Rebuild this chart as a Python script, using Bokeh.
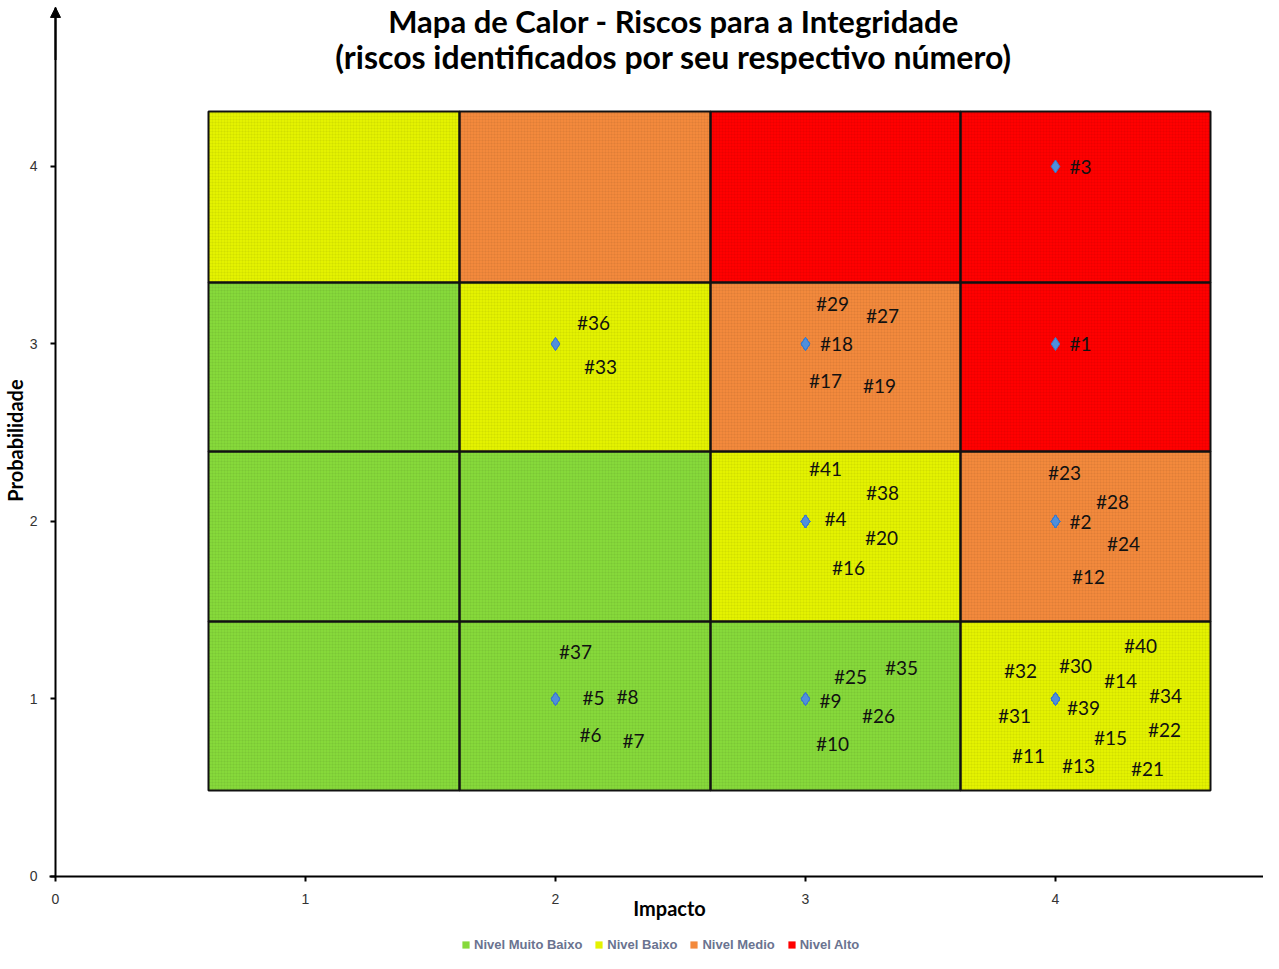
import math
from bokeh.plotting import figure
from bokeh.models import (Range1d, Label, Legend, LegendItem, Arrow, NormalHead,
                          FixedTicker, ColumnDataSource)
from bokeh.core.properties import value
from bokeh.embed import file_html
from bokeh.resources import INLINE

# ---------------- data ----------------
title_line1 = "Mapa de Calor - Riscos para a Integridade"
title_line2 = "(riscos identificados por seu respectivo número)"
x_title = "Impacto"
y_title = "Probabilidade"
ticks = [0, 1, 2, 3, 4]

level_names = ["Nivel Muito Baixo", "Nivel Baixo", "Nivel Medio", "Nivel Alto"]
level_colors = ["#86d93a", "#e4f200", "#f3893c", "#ff0000"]

# cell edges (as drawn in the picture)
impact_edges = [0.612, 1.616, 2.62, 3.62, 4.62]
prob_edges = [0.485, 1.437, 2.394, 3.346, 4.31]
# level index per cell: rows = probability 1..4, cols = impact 1..4
cell_levels = [
    [0, 0, 0, 1],
    [0, 0, 1, 2],
    [0, 1, 2, 3],
    [1, 2, 3, 3],
]

risk_ids = [3, 1, 36, 33, 29, 27, 18, 17, 19, 41, 38, 4, 20, 16,
            23, 28, 2, 24, 12, 37, 5, 8, 6, 7, 25, 35, 9, 26, 10,
            40, 32, 30, 14, 34, 39, 31, 22, 15, 11, 13, 21]
risk_impact = [4, 4, 2, 2, 3, 3, 3, 3, 3, 3, 3, 3, 3, 3,
               4, 4, 4, 4, 4, 2, 2, 2, 2, 2, 3, 3, 3, 3, 3,
               4, 4, 4, 4, 4, 4, 4, 4, 4, 4, 4, 4]
risk_prob = [4, 3, 3, 3, 3, 3, 3, 3, 3, 2, 2, 2, 2, 2,
             2, 2, 2, 2, 2, 1, 1, 1, 1, 1, 1, 1, 1, 1, 1,
             1, 1, 1, 1, 1, 1, 1, 1, 1, 1, 1, 1]
# label positions (data units)
label_x = [4.10, 4.10, 2.152, 2.18, 3.108, 3.308, 3.124, 3.08, 3.296,
           3.08, 3.308, 3.12, 3.304, 3.172,
           4.036, 4.228, 4.10, 4.272, 4.132,
           2.08, 2.152, 2.288, 2.14, 2.312,
           3.18, 3.384, 3.10, 3.292, 3.108,
           4.34, 3.86, 4.08, 4.26, 4.44, 4.112, 3.836, 4.436, 4.22, 3.892, 4.092, 4.368]
label_y = [4.0, 3.0, 3.121, 2.873, 3.228, 3.161, 3.0, 2.794, 2.766,
           2.299, 2.163, 2.017, 1.910, 1.741,
           2.276, 2.113, 2.0, 1.876, 1.690,
           1.268, 1.008, 1.014, 0.800, 0.766,
           1.127, 1.177, 0.99, 0.907, 0.749,
           1.301, 1.161, 1.189, 1.104, 1.020, 0.952, 0.907, 0.828, 0.783, 0.682, 0.625, 0.608]

# ---------------- figure ----------------
W, H = 1263, 953
X0, X1 = -0.22, 4.832
Y0, Y1 = -0.4338, 4.935
Y_AXIS_TOP = 4.896
p = figure(width=W, height=H, output_backend="svg", toolbar_location=None,
           x_range=Range1d(X0, X1), y_range=Range1d(Y0, Y1),
           min_border_left=0, min_border_right=0, min_border_top=0,
           min_border_bottom=0)
p.outline_line_color = None
p.xgrid.visible = False
p.ygrid.visible = False
p.background_fill_color = "white"

# heat map cells
lefts, rights, bottoms, tops, fills, lv = [], [], [], [], [], []
for r in range(4):
    for c in range(4):
        lefts.append(impact_edges[c])
        rights.append(impact_edges[c + 1])
        bottoms.append(prob_edges[r])
        tops.append(prob_edges[r + 1])
        fills.append(level_colors[cell_levels[r][c]])
        lv.append(cell_levels[r][c])
cells = ColumnDataSource(dict(left=lefts, right=rights, bottom=bottoms, top=tops,
                              fill=fills))
cell_fill = p.quad(left="left", right="right", bottom="bottom", top="top",
                   source=cells, fill_color="fill", line_color=None)
p.quad(left="left", right="right", bottom="bottom", top="top", source=cells,
       fill_alpha=0, line_color="#111111", line_width=2,
       hatch_pattern="+", hatch_scale=3, hatch_weight=0.6,
       hatch_color="#000000", hatch_alpha=0.07)

# risk points and labels
src = ColumnDataSource(dict(x=risk_impact, y=risk_prob))
p.scatter("x", "y", source=src, marker="diamond", size=13,
          fill_color="#4f8fdc", line_color="#3a78c8")
lsrc = ColumnDataSource(dict(x=label_x, y=label_y, t=["#%d" % i for i in risk_ids]))
p.text("x", "y", text="t", source=lsrc, text_align="center", text_baseline="middle",
       text_font=value("Lato"), text_font_size="19px", text_color="#111111")

# axes, fixed at 0 inside the frame
for ax in (p.xaxis[0], p.yaxis[0]):
    ax.ticker = FixedTicker(ticks=ticks)
    ax.fixed_location = 0
    ax.axis_line_width = 2
    ax.axis_line_color = "black"
    ax.major_tick_line_width = 2
    ax.major_tick_line_color = "black"
    ax.major_tick_out = 5
    ax.major_tick_in = 0
    ax.minor_tick_line_color = None
    ax.major_label_text_font = "Liberation Sans"
    ax.major_label_text_font_size = "14px"
    ax.major_label_text_color = "#333333"
p.xaxis.bounds = (-0.024, X1)
p.yaxis.bounds = (0, Y_AXIS_TOP)
p.xaxis.major_label_standoff = 13
p.yaxis.major_label_standoff = 13

p.add_layout(Arrow(end=NormalHead(size=10, fill_color="black", line_color="black"),
                   x_start=0, y_start=4.6, x_end=0, y_end=Y_AXIS_TOP,
                   line_width=2, line_color="black"))

# axis titles
p.add_layout(Label(x=2.456, y=-0.175, text=x_title, text_align="center",
                   text_baseline="middle", text_font="Lato", text_font_style="bold",
                   text_font_size="20px", text_color="black"))
p.add_layout(Label(x=-0.164, y=2.456, text=y_title, text_align="center",
                   text_baseline="middle", angle=math.pi / 2,
                   text_font="Lato", text_font_style="bold",
                   text_font_size="20px", text_color="black"))

# chart titles
p.add_layout(Label(x=2.472, y=4.818, text=title_line1, text_align="center",
                   text_baseline="middle", text_font="Lato", text_font_style="bold",
                   text_font_size="31px", text_color="black"))
p.add_layout(Label(x=2.472, y=4.621, text=title_line2, text_align="center",
                   text_baseline="middle", text_font="Lato", text_font_style="bold",
                   text_font_size="32px", text_color="black"))

# legend: one entry per level, using a cell of that level as swatch
items = []
for k, name in enumerate(level_names):
    items.append(LegendItem(label=name, renderers=[cell_fill], index=lv.index(k)))
legend = Legend(items=items, orientation="horizontal", location=(461, 1),
                label_text_font="Liberation Sans", label_text_font_size="13px",
                label_text_font_style="bold",
                label_text_color="#6a7390", glyph_width=9, glyph_height=9,
                label_standoff=4, spacing=12, padding=0, margin=0,
                border_line_color=None, background_fill_alpha=0,
                label_height=14)
p.add_layout(legend)

open("out.html", "w").write(file_html(p, INLINE))
